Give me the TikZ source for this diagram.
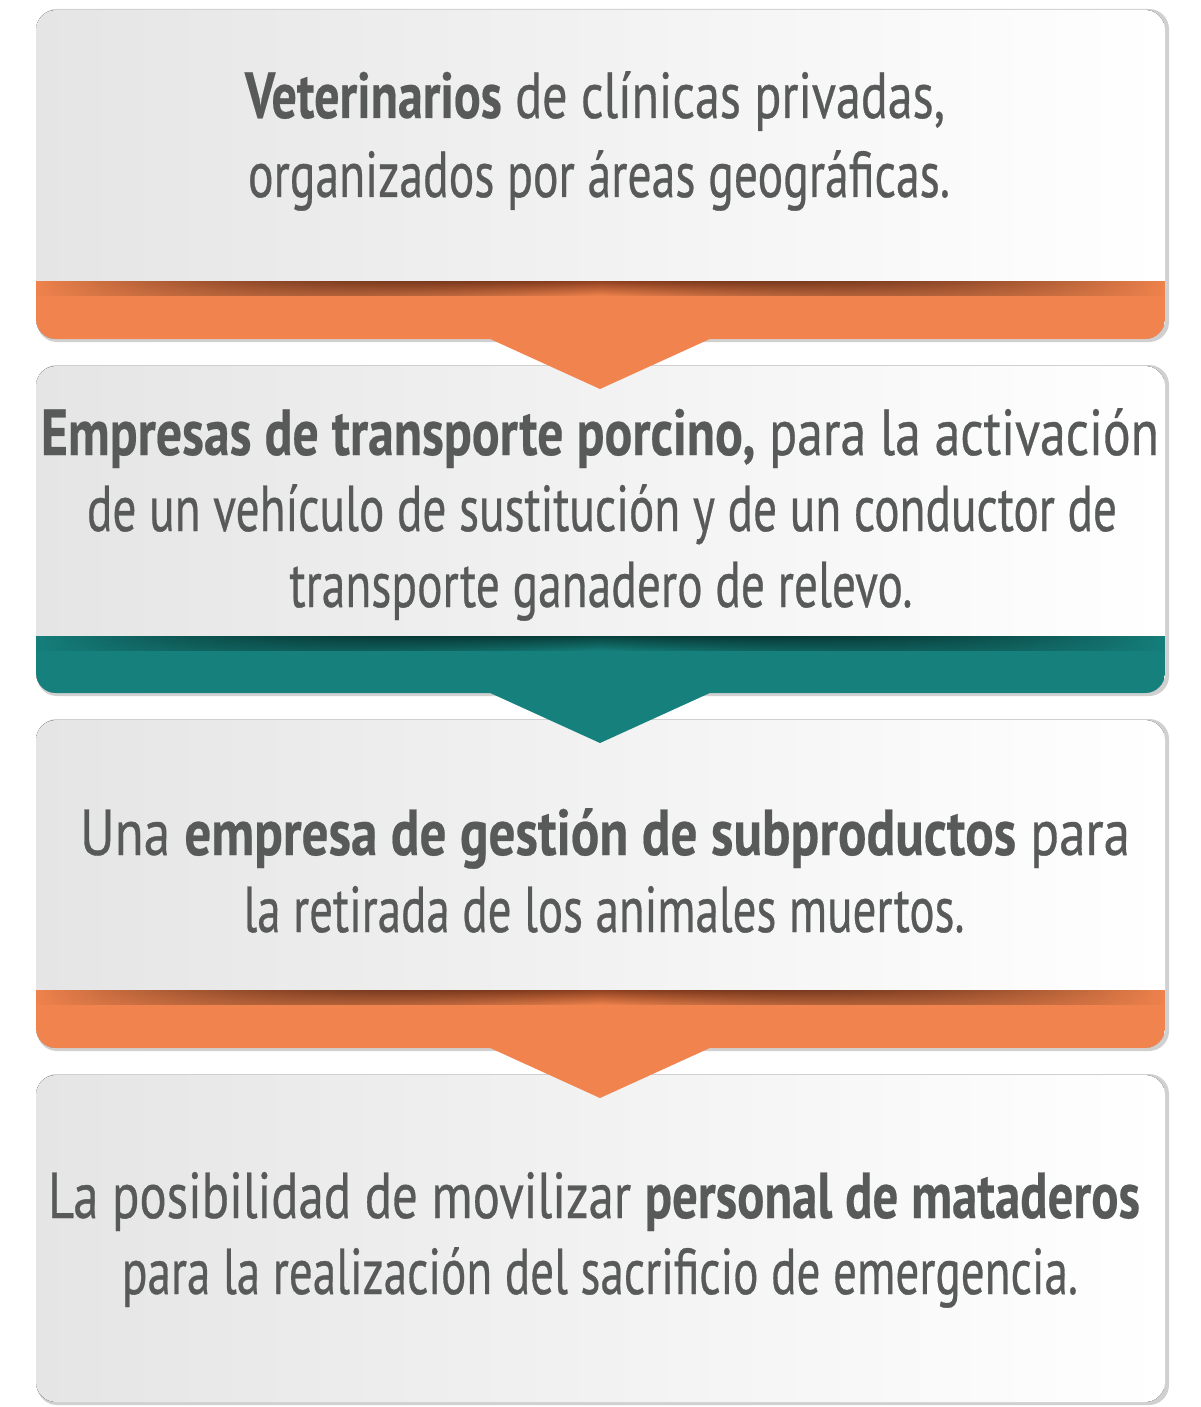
\documentclass[tikz,border=0pt]{standalone}
\usepackage{fontspec}
\setmainfont{PT Sans}[UprightFeatures={FakeBold=0.6}, BoldFeatures={FakeBold=0.4}]
\usepackage{graphicx}
\usetikzlibrary{fadings}
\definecolor{txt}{RGB}{88,89,89}
\definecolor{orangeband}{RGB}{241,132,78}
\definecolor{orangedark}{RGB}{145,66,33}
\definecolor{tealband}{RGB}{22,128,124}
\definecolor{tealdark}{RGB}{8,66,62}
\definecolor{boxleft}{RGB}{229,229,230}
\definecolor{boxright}{RGB}{255,255,255}
\definecolor{boxedge}{RGB}{208,208,208}
\newdimen\pxu \pxu=0.5pt
\newcommand\fitline[2]{\resizebox{#1\pxu}{\height}{#2}}
\tikzfading[name=midfade, left color=transparent!100, right color=transparent!100, middle color=transparent!0]
\newcommand\flowbox[5]{%
  \fill[boxedge, rounded corners=10pt] (37,#1-1) rectangle (1169,#2+3);
  \begin{scope}
    \path[clip, rounded corners=10pt] (36,#1) rectangle (1165,#2);
    \fill[left color=boxleft, right color=boxright] (36,#1) rectangle (1165,#2);
    \fill[#4] (36,#3) rectangle (1165,#2+1);
    \fill[path fading=midfade, top color=#5, bottom color=#4] (36,#3) rectangle (1165,#3+15);
  \end{scope}
}
\begin{document}
\begin{tikzpicture}[x=0.5pt, y=-0.5pt,
  linetxt/.style={anchor=base, inner sep=0pt, text=txt, font=\fontsize{32.5}{38}\selectfont}]
\useasboundingbox[fill=white] (0,0) rectangle (1200,1407);
% boxes
\flowbox{10}{339}{281}{orangeband}{orangedark}
\flowbox{366}{693}{636}{tealband}{tealdark}
\flowbox{720}{1048}{990}{orangeband}{orangedark}
\flowbox{1075}{1402}{1500}{orangeband}{orangedark}
% pointers
\fill[orangeband] (488,338) -- (712,338) -- (600,389) -- cycle;
\fill[tealband] (488,692) -- (712,692) -- (600,743) -- cycle;
\fill[orangeband] (488,1047) -- (712,1047) -- (600,1098) -- cycle;
% texts
\node[linetxt] (b1a) at (595,118) {\fitline{700}{\textbf{Veterinarios} de clínicas privadas,}};
\node[linetxt] (b1b) at (599,197) {\fitline{702}{organizados por áreas geográficas.}};
\node[linetxt] (b2a) at (600,455) {\fitline{1118}{\textbf{Empresas de transporte porcino,} para la activación}};
\node[linetxt] (b2b) at (602,531) {\fitline{1030}{de un vehículo de sustitución y de un conductor de}};
\node[linetxt] (b2c) at (601,607) {\fitline{623}{transporte ganadero de relevo.}};
\node[linetxt] (b3a) at (605,855) {\fitline{1050}{Una \textbf{empresa de gestión de subproductos} para}};
\node[linetxt] (b3b) at (604,932) {\fitline{721}{la retirada de los animales muertos.}};
\node[linetxt] (b4a) at (594,1218) {\fitline{1092}{La posibilidad de movilizar \textbf{personal de mataderos}}};
\node[linetxt] (b4b) at (600,1294) {\fitline{956}{para la realización del sacrificio de emergencia.}};
\end{tikzpicture}
\end{document}
